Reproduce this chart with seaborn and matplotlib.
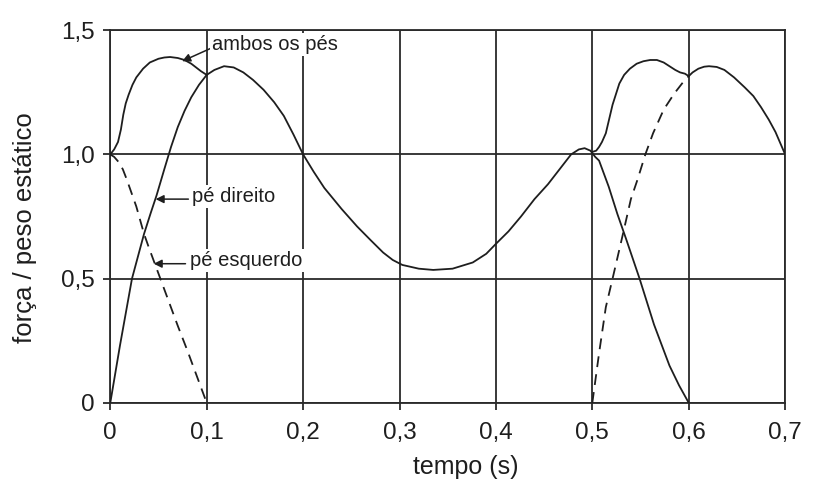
import matplotlib
matplotlib.use("Agg")
import matplotlib.pyplot as plt
import seaborn as sns

# ambos os pés, 1.ª fase de duplo apoio (0 - 0,1 s)
t_ambos_1 = [0.000, 0.004, 0.008, 0.011, 0.0135, 0.016, 0.019, 0.023, 0.027, 0.034,
             0.041, 0.050, 0.056, 0.062, 0.070, 0.077, 0.084, 0.089, 0.094, 0.100]
ambos_1 = [1.00, 1.02, 1.05, 1.10, 1.16, 1.205, 1.24, 1.28, 1.31, 1.345,
           1.37, 1.385, 1.39, 1.392, 1.388, 1.38, 1.365, 1.35, 1.335, 1.32]

# pé direito (0 - 0,6 s)
t_direito = [0.000, 0.010, 0.0225, 0.035, 0.042, 0.048, 0.056, 0.063, 0.070, 0.077,
             0.084, 0.092, 0.100, 0.108, 0.118, 0.128, 0.138, 0.148, 0.159, 0.170,
             0.180, 0.190, 0.200, 0.211, 0.222, 0.240, 0.256, 0.270, 0.283, 0.293,
             0.303, 0.320, 0.335, 0.355, 0.376, 0.390, 0.400, 0.413, 0.426, 0.440,
             0.454, 0.466, 0.478, 0.486, 0.492, 0.498, 0.503, 0.507, 0.517, 0.526,
             0.535, 0.549, 0.564, 0.580, 0.590, 0.600]
direito = [0.00, 0.23, 0.50, 0.68, 0.765, 0.835, 0.94, 1.03, 1.11, 1.175,
           1.23, 1.28, 1.32, 1.34, 1.355, 1.35, 1.33, 1.30, 1.26, 1.21,
           1.155, 1.08, 1.00, 0.93, 0.865, 0.78, 0.71, 0.655, 0.605, 0.575,
           0.555, 0.54, 0.535, 0.54, 0.565, 0.60, 0.64, 0.69, 0.75, 0.82,
           0.88, 0.94, 1.00, 1.02, 1.025, 1.015, 0.99, 0.975, 0.87, 0.76,
           0.66, 0.50, 0.315, 0.15, 0.07, 0.00]

# pé esquerdo, tracejado (0 - 0,1 s)
t_esq_1 = [0.000, 0.004, 0.0085, 0.013, 0.017, 0.022, 0.027, 0.035, 0.040, 0.050,
           0.060, 0.070, 0.080, 0.090, 0.100]
esq_1 = [1.00, 0.99, 0.97, 0.94, 0.90, 0.845, 0.79, 0.68, 0.625, 0.52,
         0.415, 0.31, 0.21, 0.105, 0.00]

# ambos os pés, 2.ª fase de duplo apoio (0,5 - 0,6 s)
t_ambos_2 = [0.500, 0.504, 0.507, 0.510, 0.514, 0.521, 0.528, 0.533, 0.539, 0.546,
             0.553, 0.560, 0.567, 0.574, 0.580, 0.586, 0.591, 0.596, 0.600]
ambos_2 = [1.01, 1.015, 1.03, 1.05, 1.085, 1.20, 1.285, 1.32, 1.345, 1.365,
           1.375, 1.38, 1.38, 1.37, 1.355, 1.34, 1.33, 1.325, 1.315]

# pé esquerdo, tracejado (0,5 - 0,6 s)
t_esq_2 = [0.500, 0.507, 0.514, 0.521, 0.530, 0.540, 0.547, 0.555, 0.563, 0.574,
           0.585, 0.594, 0.600]
esq_2 = [0.00, 0.20, 0.385, 0.50, 0.65, 0.82, 0.90, 1.00, 1.085, 1.18,
         1.245, 1.29, 1.315]

# pé esquerdo, apoio simples (0,6 - 0,7 s)
t_esq_3 = [0.600, 0.604, 0.610, 0.616, 0.621, 0.629, 0.637, 0.647, 0.658, 0.667,
           0.675, 0.683, 0.690, 0.700]
esq_3 = [1.315, 1.33, 1.345, 1.353, 1.355, 1.352, 1.34, 1.31, 1.27, 1.235,
         1.19, 1.14, 1.09, 1.00]

x_ticks = [0, 0.1, 0.2, 0.3, 0.4, 0.5, 0.6, 0.7]
x_labels = ["0", "0,1", "0,2", "0,3", "0,4", "0,5", "0,6", "0,7"]
y_ticks = [0, 0.5, 1.0, 1.5]
y_labels = ["0", "0,5", "1,0", "1,5"]

sns.set_theme(style="white")
plt.rcParams["font.family"] = ["Liberation Sans", "DejaVu Sans"]

INK = "#1e1e1e"
GRID = "#2a2a2a"

fig = plt.figure(figsize=(8.17, 4.79), dpi=100)
ax = fig.add_axes([0.135, 0.159, 0.826, 0.778])

solid = dict(color=INK, linewidth=1.3, ax=ax, zorder=3)
sns.lineplot(x=t_ambos_1, y=ambos_1, **solid)
sns.lineplot(x=t_direito, y=direito, **solid)
sns.lineplot(x=t_ambos_2, y=ambos_2, **solid)
sns.lineplot(x=t_esq_3, y=esq_3, **solid)
sns.lineplot(x=t_esq_1, y=esq_1, **solid).lines[-1].set_dashes((6, 4))
sns.lineplot(x=t_esq_2, y=esq_2, **solid).lines[-1].set_dashes((6, 4))

ax.set_xlim(0, 0.7)
ax.set_ylim(0, 1.5)
ax.set_xticks(x_ticks)
ax.set_xticklabels(x_labels)
ax.set_yticks(y_ticks)
ax.set_yticklabels(y_labels)
ax.grid(True, color=GRID, linewidth=1.3)
for s in ax.spines.values():
    s.set_color(GRID)
    s.set_linewidth(1.3)
ax.tick_params(axis="both", which="major", direction="out", length=5, width=1.3,
               color=GRID, labelsize=17.5, labelcolor=INK,
               bottom=True, left=True)
ax.tick_params(axis="x", pad=9)
ax.tick_params(axis="y", pad=6)

ax.set_xlabel("tempo (s)", fontsize=18, color=INK)
ax.set_ylabel("força / peso estático", fontsize=18.5, color=INK)
ax.xaxis.set_label_coords(0.527, -0.14)
ax.yaxis.set_label_coords(-0.108, 0.47)

# rótulos com setas; o fundo branco interrompe a grelha como no original
arrow = dict(arrowstyle="-|>", color=INK, lw=1.1, mutation_scale=12,
             shrinkA=0, shrinkB=0)
box = dict(facecolor="white", edgecolor="none", pad=1.5)
txt = dict(fontsize=14.5, color=INK, va="center", ha="left", bbox=box, zorder=4)

ax.annotate("", xy=(0.0745, 1.375), xytext=(0.106, 1.43), arrowprops=arrow, zorder=4)
ax.text(0.106, 1.443, "ambos os pés", **txt)

ax.annotate("", xy=(0.047, 0.82), xytext=(0.081, 0.82), arrowprops=arrow, zorder=4)
ax.text(0.085, 0.832, "pé direito", **txt)

ax.annotate("", xy=(0.045, 0.56), xytext=(0.078, 0.56), arrowprops=arrow, zorder=4)
ax.text(0.083, 0.572, "pé esquerdo", **txt)

fig.savefig("out.png", dpi=100, facecolor="white")
